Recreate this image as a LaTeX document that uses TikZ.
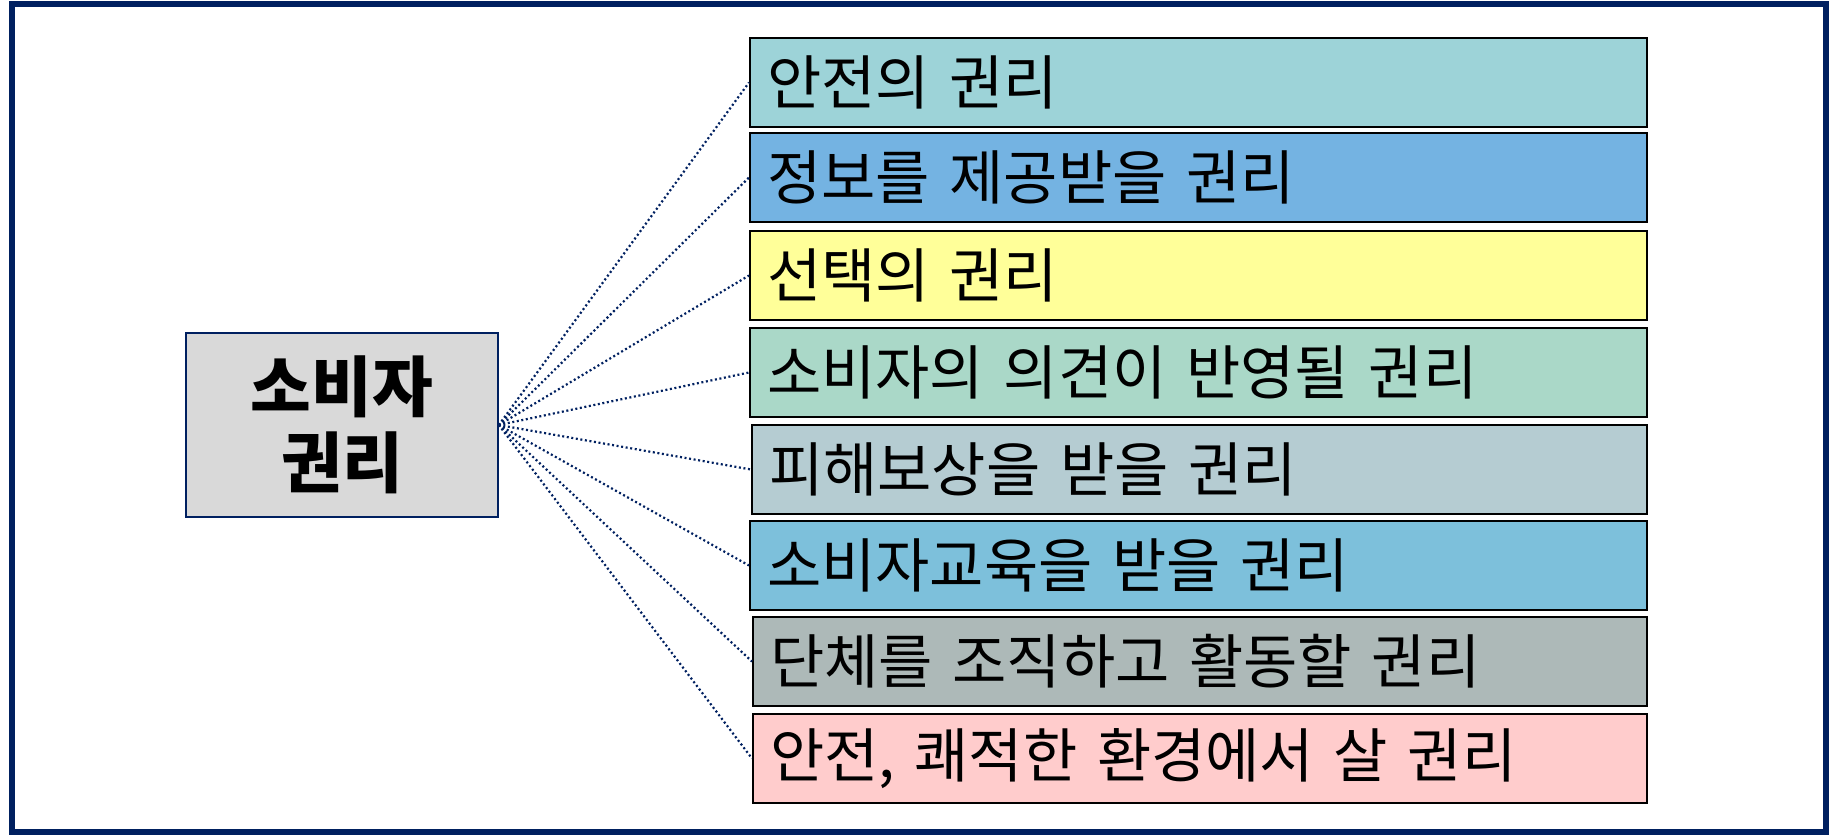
\documentclass[tikz,border=0pt]{standalone}
\usepackage{fontspec}
\setmainfont{Noto Sans CJK KR}
\definecolor{navy}{HTML}{002060}
\definecolor{c1}{HTML}{9DD3D8}
\definecolor{c2}{HTML}{74B3E2}
\definecolor{c3}{HTML}{FFFF99}
\definecolor{c4}{HTML}{AAD8C8}
\definecolor{c5}{HTML}{B5CCD2}
\definecolor{c6}{HTML}{7DC0DB}
\definecolor{c7}{HTML}{ADB9B8}
\definecolor{c8}{HTML}{FFCCCC}
\definecolor{leftgray}{HTML}{D9D9D9}
\tikzset{
  rightbox/.style={draw=black, line width=2pt, rectangle, anchor=north west,
    minimum height=89pt, inner xsep=17pt, inner ysep=0pt, text width=863pt, align=left,
    font=\fontsize{59}{64}\selectfont},
  leftbox/.style={draw=navy, line width=1.6pt, fill=leftgray, rectangle,
    minimum width=312pt, minimum height=184pt, align=center,
    font=\fontsize{66}{76}\selectfont\bfseries},
  link/.style={draw=navy, line width=2.2pt, dash pattern=on 2pt off 2.6pt},
  frame/.style={draw=navy, line width=6pt}
}
\begin{document}
\begin{tikzpicture}[x=1pt,y=-1pt]
\useasboundingbox (0,0) rectangle (1836,835);
\draw[frame] (12,4) rectangle (1826,832);
\node[leftbox] (root) at (342,425) {소비자\\권리};
\node[rightbox, fill=c1] (b1) at (749,37) {안전의 권리};
\node[rightbox, fill=c2] (b2) at (749,132) {정보를 제공받을 권리};
\node[rightbox, fill=c3] (b3) at (749,230) {선택의 권리};
\node[rightbox, fill=c4] (b4) at (749,327) {소비자의 의견이 반영될 권리};
\node[rightbox, fill=c5, text width=861pt] (b5) at (751,424) {피해보상을 받을 권리};
\node[rightbox, fill=c6] (b6) at (749,520) {소비자교육을 받을 권리};
\node[rightbox, fill=c7, text width=860pt] (b7) at (752,616) {단체를 조직하고 활동할 권리};
\node[rightbox, fill=c8, text width=860pt] (b8) at (752,713) {안전, 쾌적한 환경에서 살 권리};
\foreach \i in {1,...,8} {
  \draw[link] (root.east) -- (b\i.west);
}
\end{tikzpicture}
\end{document}
